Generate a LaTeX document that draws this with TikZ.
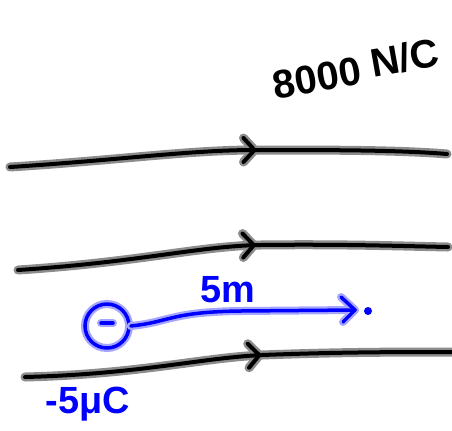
\documentclass[tikz,border=0pt]{standalone}
\usepackage{fontspec}
\setmainfont{Liberation Sans}
\usetikzlibrary{arrows.meta,decorations.markings}
\tikzset{
  halo/.style={line width=9bp, draw=black!45, line cap=round, line join=round},
  ink/.style={line width=4bp, draw=black, line cap=round, line join=round},
  bhalo/.style={line width=8bp, draw=blue!35, line cap=round, line join=round},
  bink/.style={line width=3.5bp, draw=blue, line cap=round, line join=round},
  chev/.style={decoration={markings, mark=at position #1 with {\draw[ink] (-11,-12)--(0,0)--(-11,12);}}, postaction=decorate},
  chevh/.style={decoration={markings, mark=at position #1 with {\draw[halo] (-11,-12)--(0,0)--(-11,12);}}, postaction=decorate},
  lbl/.style={text=blue, font=\bfseries\fontsize{38}{40}\selectfont, inner sep=0pt},
  elbl/.style={text=black, font=\bfseries\fontsize{40}{42}\selectfont, inner sep=0pt, rotate=10}
}
\newcommand\fline[2]{%
  \draw[halo, chevh=#2] #1;
  \draw[ink, chev=#2] #1;
}
\begin{document}
\begin{tikzpicture}[x=1bp,y=-1bp]
\useasboundingbox (0,0) rectangle (452,430);
% field lines
\fline{(10,167) .. controls (120,160) and (190,150) .. (255,150) .. controls (330,150) and (400,150) .. (447,154)}{0.56}
\fline{(18,270) .. controls (140,262) and (200,246) .. (260,245) .. controls (340,244) and (400,246) .. (448,247)}{0.55}
\fline{(25,377) .. controls (140,374) and (200,358) .. (262,355) .. controls (340,352) and (400,352) .. (452,352)}{0.55}
% label of the field
\node[elbl] (E1) at (317,78) {8000};
\node[elbl] (E2) at (405,58) {N/C};
% charge
\node[circle, draw=blue!35, line width=8bp, minimum size=44bp, inner sep=0pt] (qh) at (107,326) {};
\node[circle, draw=blue, line width=3.5bp, minimum size=44bp, inner sep=0pt] (q) at (107,326) {};
\draw[bhalo] (101,323) -- (113,323);
\draw[bink] (101,323) -- (113,323);
% point
\node[circle, fill=blue, inner sep=0pt, minimum size=8bp] (p) at (368,311) {};
\coordinate (tip) at (355,310);
\draw[bhalo] (q.east) .. controls (170,322) and (170,312) .. (240,311) -- (tip);
\draw[bhalo] (341,297) -- (tip) -- (343,322);
\draw[bink] (q.east) .. controls (170,322) and (170,312) .. (240,311) -- (tip);
\draw[bink] (341,297) -- (tip) -- (343,322);
% labels
\node[lbl] (d) at (228,290) {5m};
\node[lbl] (qlab) at (88,404) {-5μC};
\end{tikzpicture}
\end{document}
